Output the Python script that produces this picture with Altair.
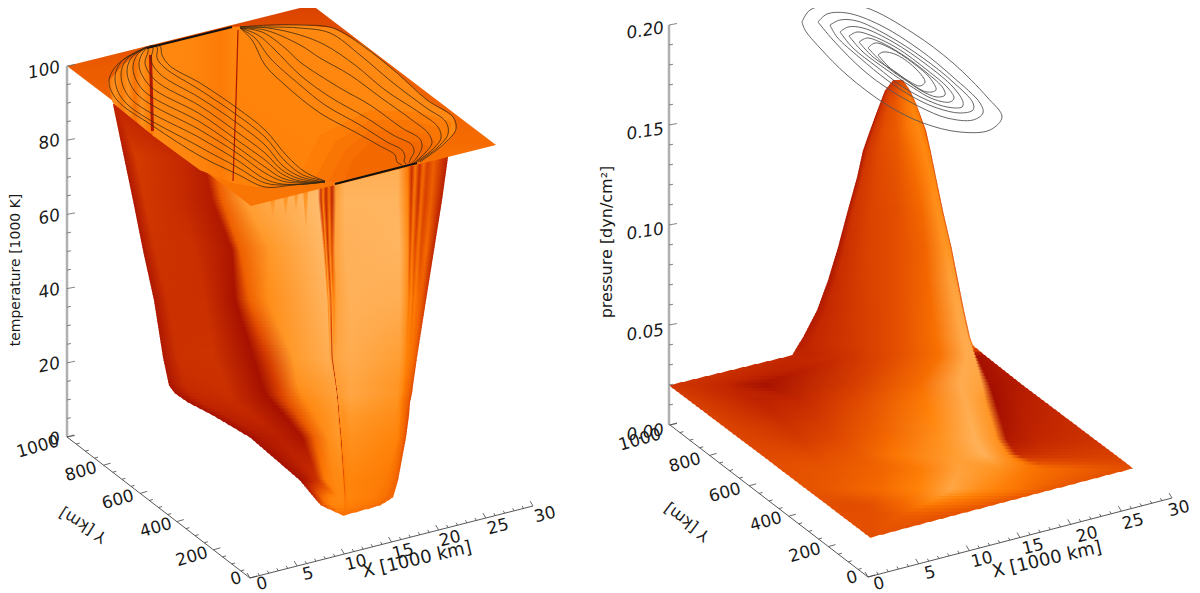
import altair as alt

# ---- shade palette of the surfaces (0 dark red ... 100 pale orange)
PAL_S = [0, 20, 40, 55, 65, 75, 85, 100]
PAL_C = [(160, 12, 0), (192, 36, 0), (224, 74, 0), (245, 106, 0), (255, 130, 8), (255, 152, 40), (255, 172, 80), (255, 196, 124)]

# ---- left panel: outer wall rows
LW_Y = [104, 157, 200, 250, 300, 357, 385, 393, 402, 415, 437, 480, 497, 505, 515]
LW_X = [
    [113, 117, 121, 125, 129, 133, 137, 141, 145, 149, 153, 157, 161, 165, 169, 173, 177, 181, 185, 189, 193, 197, 200],
    [124, 136, 185, 203, 212, 232, 318, 321, 323, 326, 329, 332, 335, 345, 398, 408, 412, 416, 420, 424, 428, 434, 448],
    [133, 145, 180, 212, 222, 245, 318, 321, 323, 326, 329, 332, 336, 345, 398, 408, 411, 414, 418, 421, 425, 431, 442],
    [143, 155, 195, 232, 240, 270, 323, 325, 326, 328, 330, 332, 335, 345, 400, 408, 410, 412, 415, 418, 421, 426, 434],
    [154, 168, 205, 235, 249, 268, 327, 328, 329, 331, 332, 333, 337, 350, 400, 407, 409, 411, 413, 415, 418, 421, 426],
    [163, 178, 213, 253, 267, 293, 329, 330, 331, 332, 333, 334, 338, 350, 400, 405, 406, 408, 409, 411, 412, 414, 417],
    [169, 185, 225, 262, 278, 298, 334, 335, 335.5, 336, 336.5, 337, 340, 350, 398, 403, 404, 405, 406, 407, 408, 410, 413],
    [175, 190, 228, 265, 281, 301, 335, 336, 336.5, 337, 337.5, 338, 341, 350, 398, 402, 403, 404, 405, 406, 407, 409, 412],
    [188, 200, 235, 272, 287, 306, 336, 337, 337.5, 338, 338.5, 339, 342, 350, 397, 401, 402, 403, 404, 405, 406, 408, 410],
    [213, 225, 252, 284, 298, 315, 337, 338, 338.5, 339, 339.5, 340, 343, 350, 396, 400, 401, 402, 403, 404, 405, 406, 409],
    [250, 262, 280, 302, 314, 328, 339, 340, 340.5, 341, 341.5, 342, 345, 352, 395, 398, 399, 400, 401, 402, 403, 404, 406],
    [300, 305, 312, 318, 325, 335, 343, 343.3, 343.6, 344, 344.4, 344.8, 346, 352, 385, 388, 389, 390, 392, 393, 395, 396, 398],
    [314, 322, 330, 336, 340, 342, 344, 344.3, 344.6, 345, 345.4, 345.8, 347, 352, 375, 380, 381, 382, 384, 385, 387, 390, 393],
    [321, 326, 332, 337, 340, 342, 344, 344.3, 344.6, 345, 345.4, 345.8, 347, 352, 368, 372, 373, 374, 375, 376, 377, 379, 380],
    [343, 343, 343, 343, 343, 343, 343, 343, 343, 343, 343, 343, 344, 344, 344, 344, 344, 344, 344, 344, 344, 344, 344],
]
LW_S = [
    [20, 20, 20, 20, 20, 20, 20, 20, 20, 20, 20, 20, 20, 20, 20, 20, 20, 20, 20, 20, 20, 20, 20],
    [10, 32, 22, 15, 50, 75, 85, 25, 60, 22, 55, 20, 70, 85, 85, 60, 25, 60, 25, 55, 35, 50, 15],
    [10, 30, 24, 12, 50, 78, 95, 25, 65, 20, 60, 18, 80, 90, 90, 65, 28, 60, 25, 55, 35, 50, 15],
    [10, 28, 26, 8, 50, 75, 92, 50, 72, 30, 70, 40, 80, 88, 90, 70, 40, 62, 40, 58, 40, 55, 18],
    [10, 27, 26, 5, 50, 70, 90, 70, 80, 45, 78, 65, 80, 88, 86, 72, 60, 66, 55, 62, 55, 50, 30],
    [10, 27, 28, 4, 32, 76, 86, 80, 84, 25, 80, 80, 82, 85, 78, 70, 66, 64, 62, 60, 58, 55, 42],
    [8, 24, 27, 4, 35, 72, 80, 80, 78, 20, 76, 78, 78, 82, 74, 68, 64, 62, 60, 58, 56, 52, 40],
    [6, 22, 26, 4, 38, 70, 80, 80, 78, 20, 76, 78, 78, 82, 74, 68, 64, 62, 60, 58, 56, 52, 40],
    [4, 20, 24, 4, 42, 68, 78, 76, 76, 20, 76, 76, 76, 80, 72, 66, 62, 60, 58, 56, 54, 50, 40],
    [4, 18, 22, 4, 45, 68, 76, 74, 72, 22, 72, 74, 72, 76, 70, 66, 62, 60, 58, 56, 54, 50, 40],
    [3, 12, 16, 6, 50, 70, 76, 70, 65, 25, 65, 70, 70, 72, 66, 65, 62, 60, 58, 56, 54, 50, 40],
    [3, 8, 20, 30, 62, 68, 68, 60, 55, 40, 55, 60, 66, 66, 62, 60, 60, 60, 58, 57, 55, 52, 48],
    [20, 55, 66, 68, 68, 68, 66, 62, 60, 55, 60, 62, 66, 66, 62, 60, 60, 60, 58, 58, 55, 55, 55],
    [40, 58, 66, 66, 66, 66, 66, 62, 62, 60, 62, 62, 64, 64, 60, 60, 58, 58, 58, 58, 56, 55, 55],
    [58, 58, 58, 58, 58, 58, 58, 58, 58, 58, 58, 58, 58, 58, 58, 58, 58, 58, 58, 58, 58, 58, 58],
]

# ---- right panel: hill and ground rows
RH_Y = [80, 90, 103, 130, 150, 177, 213, 247, 280, 310, 337, 345, 355, 385, 400, 440, 455, 468, 490, 505, 515, 537]
RH_X = [
    [893, 894, 895, 896, 898, 900, 902, 903, 903, 903],
    [885, 887, 890, 895, 901, 906, 909, 910, 910, 910],
    [880, 883, 888, 895, 904, 912, 915, 916, 916, 916],
    [870, 874, 884, 897, 908, 919, 924, 926, 926, 926],
    [863, 868, 880, 897, 912, 924, 929, 930.5, 930.5, 930.5],
    [857, 862, 876, 897, 916, 930, 934.5, 936, 936, 936],
    [847, 853, 870, 897, 922, 938, 942, 943.5, 943.5, 943.5],
    [838, 845, 868, 897, 925, 945, 950, 951.5, 951.5, 951.5],
    [828, 836, 862, 897, 928, 951, 956, 958, 958, 958],
    [817, 826, 856, 897, 932, 957, 962, 964, 964, 964],
    [803, 815, 850, 897, 936, 962, 968, 970, 970, 970],
    [798, 812, 848, 897, 938, 964, 971, 972, 972.5, 973],
    [792, 810, 848, 897, 940, 966, 974, 976, 980, 985],
    [669, 720, 760, 850, 920, 960, 982, 990, 1005, 1023],
    [689, 760, 800, 860, 925, 965, 985, 995, 1015, 1043],
    [742, 800, 840, 890, 940, 975, 997, 1007, 1040, 1096],
    [762, 815, 860, 900, 950, 985, 1008, 1017, 1050, 1116],
    [779, 830, 880, 920, 960, 1000, 1030, 1050, 1090, 1133],
    [808, 840, 880, 920, 950, 980, 1000, 1020, 1035, 1049],
    [828, 850, 870, 900, 925, 945, 960, 972, 983, 992],
    [841, 855, 870, 885, 900, 915, 925, 935, 945, 954],
    [870, 870, 870, 870, 870, 870, 870, 870, 870, 871],
]
RH_S = [
    [22, 25, 28, 30, 32, 35, 35, 30, 30, 30],
    [18, 28, 35, 40, 50, 55, 45, 30, 30, 30],
    [12, 30, 40, 46, 58, 66, 60, 35, 35, 35],
    [10, 30, 42, 48, 60, 68, 62, 30, 30, 30],
    [10, 30, 40, 46, 58, 68, 64, 30, 30, 30],
    [10, 30, 38, 44, 56, 68, 68, 30, 30, 30],
    [10, 28, 36, 42, 54, 72, 70, 30, 30, 30],
    [8, 26, 36, 42, 52, 74, 72, 32, 32, 32],
    [8, 24, 34, 42, 54, 80, 78, 35, 35, 35],
    [10, 22, 32, 42, 56, 82, 82, 40, 40, 40],
    [12, 22, 30, 42, 58, 84, 84, 45, 45, 45],
    [14, 22, 30, 42, 58, 84, 84, 60, 60, 60],
    [22, 20, 28, 42, 58, 84, 84, 3, 5, 8],
    [30, 22, 4, 32, 56, 85, 80, 3, 8, 14],
    [34, 18, 22, 40, 62, 85, 75, 2, 12, 20],
    [38, 32, 40, 55, 72, 88, 72, 10, 22, 28],
    [40, 40, 48, 62, 76, 88, 68, 25, 30, 35],
    [42, 45, 52, 62, 80, 72, 60, 55, 48, 42],
    [44, 48, 55, 66, 82, 70, 64, 58, 52, 46],
    [42, 40, 42, 52, 62, 58, 55, 52, 48, 45],
    [42, 42, 42, 44, 48, 48, 48, 46, 45, 44],
    [42, 42, 42, 42, 42, 42, 42, 42, 42, 42],
]

# ---- left panel: plate and hole outlines
PLATE_X = [67, 312, 496, 251]
PLATE_Y = [66, 5, 145, 206]
HOLE_X = [147, 232, 300, 333, 363, 397, 427, 453, 456, 447, 420, 403, 335, 287, 257, 233, 200, 150, 113, 108, 123, 143]
HOLE_Y = [48, 27, 25, 28, 45, 73, 100, 117, 130, 142, 162, 166, 182, 183, 187, 183, 170, 133, 103, 82, 65, 50]
BACK_X = [147, 235, 235, 233, 200, 152]
BACK_Y = [48, 27, 100, 183, 170, 135]
RIGHT_X = [235, 300, 333, 363, 397, 427, 453, 456, 447, 420, 403, 335, 287, 257, 233]
RIGHT_Y = [27, 25, 28, 45, 73, 100, 117, 130, 142, 162, 166, 182, 183, 187, 183]
# darker patch of the far wall, nested outlines with their shade
PATCH = [
    (63, [295, 335, 403, 420, 447, 452, 420, 370, 320], [183, 182, 166, 162, 142, 122, 112, 110, 135]),
    (60, [312, 335, 403, 420, 443, 440, 410, 370, 335], [183, 182, 166, 162, 142, 128, 120, 120, 142]),
    (57, [328, 335, 403, 420, 438, 430, 405, 370, 345], [182, 182, 166, 162, 145, 135, 130, 130, 150]),
    (54, [345, 403, 420, 430, 420, 400, 370, 352], [180, 166, 162, 148, 142, 140, 142, 160]),
]
STRIPE_X = [108, 123, 143, 150, 153, 150, 113]
STRIPE_Y = [82, 65, 50, 48, 135, 133, 103]
DARK1_X = [149, 152, 154, 151]
DARK1_Y = [55, 55, 131, 131]
DARK2_X = [238, 236, 233]
DARK2_Y = [30, 100, 181]
EDGE1_X = [147, 232]
EDGE1_Y = [48, 27]
EDGE2_X = [335, 417]
EDGE2_Y = [184, 163]
# short dark streaks under the plate edge
STREAKS = [
    ([270, 275, 273], [198, 198, 222]),
    ([283, 288, 286], [195, 195, 220]),
    ([294, 298, 296], [192, 192, 214]),
    ([303, 308, 306], [190, 190, 232]),
]

# ---- left panel: contour lines
CONT_L = [
    [(150,46),(160,46),(162,55),(170,66),(200,83),(237,108),(265,130),(287,156),(305,172),(325,181)],
    [(150,46),(157,47),(157,58),(165,68),(200,90),(237,115),(265,137),(285,161),(303,175),(325,181)],
    [(149,46),(153,48),(151,60),(160,74),(200,98),(237,123),(265,145),(283,166),(301,177),(325,182)],
    [(148,47),(148,52),(145,63),(155,80),(200,106),(237,132),(265,153),(282,170),(300,179),(325,182)],
    [(148,47),(142,54),(139,66),(150,86),(200,114),(237,140),(265,160),(282,174),(300,181),(325,182)],
    [(148,47),(137,55),(133,69),(143,90),(200,122),(237,147),(265,167),(282,178),(300,182),(325,182)],
    [(148,47),(132,57),(127,72),(137,94),(200,130),(237,153),(265,173),(282,181),(300,183),(325,182)],
    [(147,47),(127,59),(121,75),(130,98),(200,138),(237,160),(265,179),(282,184),(305,184),(325,182)],
    [(147,47),(122,61),(115,78),(124,101),(200,147),(237,167),(265,183),(285,185),(305,184),(325,182)],
    [(147,47),(118,64),(109,81),(117,100),(153,126),(200,156),(237,174),(265,187),(293,185),(325,182)],
    [(240,27),(270,25),(300,25),(333,28),(363,46),(397,73),(427,100),(453,117),(456,129),(445,143),(420,162)],
    [(240,27),(270,27),(300,28),(330,33),(360,55),(392,82),(425,107),(446,122),(448,134),(438,147),(418,162)],
    [(240,27),(268,28),(300,35),(325,45),(355,65),(385,90),(420,113),(438,127),(441,138),(432,150),(416,162)],
    [(240,28),(265,30),(300,45),(320,58),(350,75),(380,97),(412,120),(428,133),(432,143),(425,153),(414,163)],
    [(240,28),(262,32),(285,48),(300,62),(340,88),(370,105),(402,128),(420,139),(422,147),(418,156),(412,163)],
    [(240,28),(258,35),(275,50),(300,75),(330,97),(365,117),(393,135),(412,145),(414,152),(411,158),(409,163)],
    [(240,28),(255,38),(270,58),(300,85),(325,105),(360,125),(387,142),(402,150),(405,157),(404,161),(406,164)],
    [(240,28),(252,40),(265,65),(285,85),(320,113),(355,132),(380,146),(395,155),(397,162),(402,165)],
]

# ---- right panel: contour lines
CONT_R = [
    [(802,22),(810,10),(840,4),(867,8),(913,33),(953,63),(987,97),(1002,117),(990,130),(960,132),(923,123),(887,105),(847,75),(820,48),(805,30)],
    [(818,22),(827,14),(847,13),(880,25),(920,50),(953,77),(980,103),(983,113),(973,120),(947,118),(920,107),(890,90),(863,70),(833,40)],
    [(830,25),(840,20),(857,21),(887,35),(923,58),(953,82),(973,103),(973,110),(960,113),(937,108),(913,97),(887,80),(860,58),(837,37)],
    [(840,32),(848,27),(863,28),(893,42),(927,65),(953,87),(963,102),(962,107),(947,107),(927,100),(903,87),(877,67),(853,48)],
    [(849,36),(857,32),(870,35),(897,48),(927,70),(948,88),(954,98),(950,102),(933,99),(912,87),(887,70),(863,52)],
    [(859,42),(867,38),(880,42),(903,55),(927,73),(943,88),(945,95),(937,97),(920,90),(897,73),(873,57)],
    [(868,48),(875,43),(890,48),(913,63),(930,78),(936,90),(927,92),(910,83),(887,67)],
    [(878,55),(883,52),(897,55),(917,70),(925,82),(920,86),(907,80),(890,68)],
]

# ---- axes
Z_LABELS_L = ["0", "20", "40", "60", "80", "100"]
Z_LABELS_R = ["0.00", "0.05", "0.10", "0.15", "0.20"]

FONT = "DejaVu Sans"


def shade(s):
    for i in range(len(PAL_S) - 1):
        if s <= PAL_S[i + 1]:
            t = (s - PAL_S[i]) / (PAL_S[i + 1] - PAL_S[i])
            c = [round(a + (b - a) * t) for a, b in zip(PAL_C[i], PAL_C[i + 1])]
            return "#%02x%02x%02x" % tuple(c)
    return "#%02x%02x%02x" % PAL_C[-1]


X = alt.X("x:Q", scale=alt.Scale(domain=[8, 1192], nice=False, zero=False), axis=None)
Y = alt.Y("y:Q", scale=alt.Scale(domain=[8, 593], nice=False, zero=False, reverse=True), axis=None)


def grad(stops, x1=0, y1=0, x2=1, y2=0):
    return {"gradient": "linear", "x1": x1, "y1": y1, "x2": x2, "y2": y2,
            "stops": [{"offset": max(0, min(1, o)), "color": shade(s)} for o, s in stops]}


def poly(xs, ys, fill):
    vals = [{"x": round(a, 2), "y": round(b, 2), "i": i} for i, (a, b) in enumerate(zip(xs, ys))]
    vals.append({"x": round(xs[0], 2), "y": round(ys[0], 2), "i": len(xs)})
    return alt.Chart(alt.Data(values=vals)).mark_line(fill=fill, strokeWidth=0).encode(x=X, y=Y, order="i:Q")


def mesh(ys, xrows, srows, step=3):
    out = []
    lerp = lambda a, b, t: [p + (q - p) * t for p, q in zip(a, b)]
    for i in range(len(ys) - 1):
        y0, y1 = ys[i], ys[i + 1]
        n = max(1, round((y1 - y0) / step))
        for k in range(n):
            t0, t1, tm = k / n, (k + 1) / n, (k + 0.5) / n
            xa, xb, xm = lerp(xrows[i], xrows[i + 1], t0), lerp(xrows[i], xrows[i + 1], t1), lerp(xrows[i], xrows[i + 1], tm)
            sm = lerp(srows[i], srows[i + 1], tm)
            ya, yb = y0 + (y1 - y0) * t0, y0 + (y1 - y0) * t1 + 0.8
            lo, hi = min(xa[0], xb[0]), max(xa[-1], xb[-1])
            if hi - lo < 0.5:
                continue
            stops = [(round((p - lo) / (hi - lo), 4), round(s, 1)) for p, s in zip(xm, sm)]
            out.append(poly([xa[0], xa[-1], xb[-1], xb[0]], [ya, ya, yb, yb], grad(stops)))
    return out


def path(points, color, width, closed=False, smooth=True):
    pts = list(points) + ([points[0]] if closed else [])
    vals = [{"x": a, "y": b, "i": i} for i, (a, b) in enumerate(pts)]
    kw = {"interpolate": "catmull-rom"} if smooth else {}
    return alt.Chart(alt.Data(values=vals)).mark_line(color=color, strokeWidth=width, **kw).encode(x=X, y=Y, order="i:Q")


def ticks(a, b, nint, major_every, d, color="#444444", width=0.8):
    vals = []
    for k in range(nint + 1):
        t = k / nint
        px, py = a[0] + (b[0] - a[0]) * t, a[1] + (b[1] - a[1]) * t
        f = 1.0 if k % major_every == 0 else 0.5
        vals += [{"x": px, "y": py, "t": k, "i": 0}, {"x": px + d[0] * f, "y": py + d[1] * f, "t": k, "i": 1}]
    return alt.Chart(alt.Data(values=vals)).mark_line(color=color, strokeWidth=width).encode(x=X, y=Y, detail="t:N", order="i:Q")


def labels(items, angle, size=16, italic=False, align="center"):
    vals = [{"x": a, "y": b, "t": s} for a, b, s in items]
    kw = {"fontStyle": "italic"} if italic else {}
    return alt.Chart(alt.Data(values=vals)).mark_text(font=FONT, fontSize=size, angle=angle % 360, align=align, baseline="middle", color="#1a1a1a", **kw).encode(x=X, y=Y, text="t:N")


layers = []
# ---- left panel surfaces
layers += mesh(LW_Y, LW_X, LW_S)
for sx, sy in STREAKS:
    layers.append(poly(sx, sy, grad([(0, 72), (1, 84)], 0, 0, 0, 1)))
layers.append(poly(PLATE_X, PLATE_Y, grad([(0, 36), (0.3, 48), (0.7, 56), (0.84, 60), (1, 60)], 0, 0, 0, 1)))
layers.append(poly(HOLE_X, HOLE_Y, grad([(0, 64), (1, 64)])))
layers.append(poly(BACK_X, BACK_Y, grad([(0, 68), (0.5, 67), (0.85, 62), (1, 67)])))
layers.append(poly(RIGHT_X, RIGHT_Y, grad([(0, 66), (0.3, 68), (0.6, 66), (1, 65)], 1, 0, 0, 1)))
for s, px, py in PATCH:
    layers.append(poly(px, py, grad([(0, s), (1, s)])))
layers.append(poly(STRIPE_X, STRIPE_Y, grad([(0, 58), (0.15, 72), (0.3, 62), (0.45, 72), (0.6, 58), (0.75, 72), (0.9, 64), (1, 55)])))
layers.append(poly(DARK1_X, DARK1_Y, grad([(0, 5), (1, 15)])))
layers.append(path(list(zip(DARK2_X, DARK2_Y)), shade(8), 1.2, smooth=False))
for line in CONT_L:
    layers.append(path(line, "#3d2a10", 0.8))
layers.append(path(list(zip(EDGE1_X, EDGE1_Y)), "#111111", 2.2, smooth=False))
layers.append(path(list(zip(EDGE2_X, EDGE2_Y)), "#111111", 2.2, smooth=False))

# ---- right panel surfaces
layers += mesh(RH_Y, RH_X, RH_S)
for line in CONT_R:
    layers.append(path(line, "#555555", 0.9, closed=True))

# ---- left panel axes
layers.append(path([(67, 66), (67, 437)], "#b0b0b0", 2.5, smooth=False))
layers.append(ticks((67, 437), (67, 66), 20, 4, (8, -1.5), "#666666"))
layers.append(path([(67, 437), (250, 578)], "#444444", 0.9, smooth=False))
layers.append(ticks((67, 437), (250, 578), 20, 4, (7, -2)))
layers.append(path([(250, 578), (533, 506)], "#444444", 0.9, smooth=False))
layers.append(ticks((250, 578), (533, 506), 30, 5, (-3, -5)))
layers.append(labels([(60, y, s) for y, s in zip([438, 363, 289, 215, 140, 67], Z_LABELS_L)], -12, 17, True, "right"))
layers.append(labels([(38, 447, "1000"), (81, 472, "800"), (118, 500, "600"), (156, 528, "400"), (192, 557, "200"), (236, 579, "0")], -16, 17))
layers.append(labels([(262, 584, "0"), (308, 574, "5"), (356, 563, "10"), (403, 552, "15"), (450, 539, "20"), (498, 527, "25"), (545, 515, "30")], -14, 17))
layers.append(labels([(417, 560, "X [1000 km]")], -13, 18))
layers.append(labels([(83, 525, "Y [km]")], 212, 16))
layers.append(labels([(16, 270, "temperature [1000 K]")], 270, 14))

# ---- right panel axes
layers.append(path([(669, 25), (669, 425)], "#b0b0b0", 2.5, smooth=False))
layers.append(ticks((669, 425), (669, 25), 20, 5, (8, -1.5), "#666666"))
layers.append(path([(670, 425), (868, 577)], "#444444", 0.9, smooth=False))
layers.append(ticks((670, 425), (868, 577), 20, 4, (7, -2)))
layers.append(path([(868, 577), (1172, 498)], "#444444", 0.9, smooth=False))
layers.append(ticks((868, 577), (1172, 498), 30, 5, (-3, -5)))
layers.append(labels([(664, y, s) for y, s in zip([430, 330, 229, 129, 28], Z_LABELS_R)], -9, 17, True, "right"))
layers.append(labels([(640, 440, "1000"), (685, 463, "800"), (725, 493, "600"), (766, 522, "400"), (805, 553, "200"), (852, 578, "0")], -16, 17))
layers.append(labels([(879, 584, "0"), (930, 573, "5"), (982, 560, "10"), (1033, 547, "15"), (1087, 535, "20"), (1133, 522, "25"), (1179, 509, "30")], -14, 17))
layers.append(labels([(1047, 560, "X [1000 km]")], -13, 18))
layers.append(labels([(687, 522, "Y [km]")], 217, 16))
layers.append(labels([(607, 242, "pressure [dyn/cm²]")], 270, 16))

chart = alt.layer(*layers).properties(width=1184, height=585, padding=0, autosize=alt.AutoSizeParams(type="none")).configure_view(stroke=None)
chart.save("out.html", embed_options={"renderer": "svg", "actions": False})
